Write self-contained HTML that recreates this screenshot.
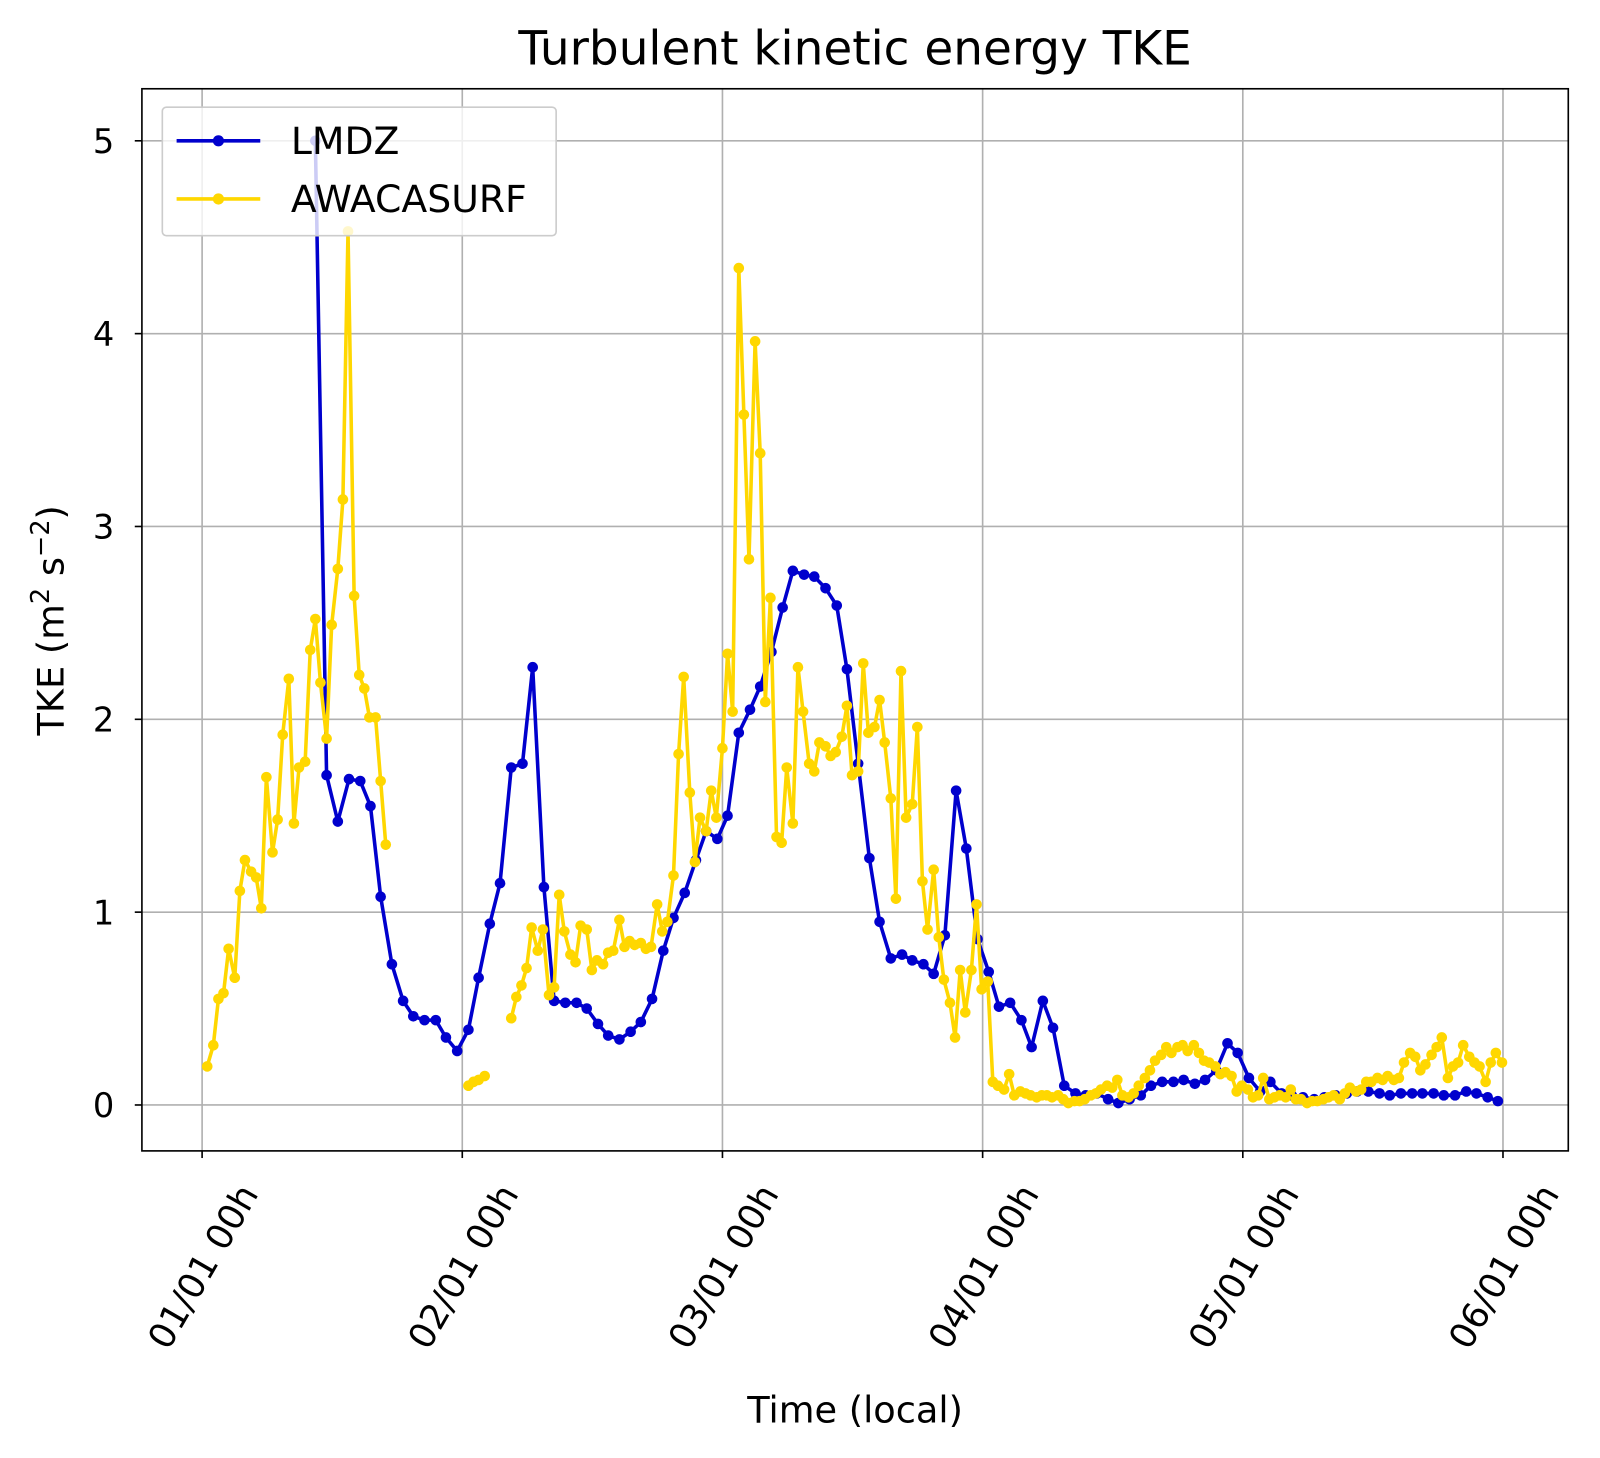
<!DOCTYPE html>
<html><head><meta charset="utf-8"><style>
html,body{margin:0;padding:0;background:#fff;}
svg{display:block;}
text{font-family:"DejaVu Sans","Liberation Sans",sans-serif;fill:#000;}
</style></head><body>
<svg id="s" width="1600" height="1458" viewBox="0 0 1568 1429" xmlns="http://www.w3.org/2000/svg">
<rect width="1568" height="1429" fill="#fff"/>
<g id="grid" stroke="#b0b0b0" stroke-width="1.6"></g>
<g id="data"></g>
<rect x="139" y="87" width="1398" height="1041" fill="none" stroke="#000" stroke-width="1.6"/>
<g id="ticks" stroke="#000" stroke-width="1.6"></g>
<g font-size="33" text-anchor="end">
<text x="112" y="1095">0</text>
<text x="112" y="906">1</text>
<text x="112" y="717">2</text>
<text x="112" y="528">3</text>
<text x="112" y="339">4</text>
<text x="112" y="150">5</text>
</g>
<g font-size="35" text-anchor="end">
<text transform="translate(254,1170) rotate(-60)">01/01 00h</text>
<text transform="translate(509,1170) rotate(-60)">02/01 00h</text>
<text transform="translate(764,1170) rotate(-60)">03/01 00h</text>
<text transform="translate(1019,1170) rotate(-60)">04/01 00h</text>
<text transform="translate(1274,1170) rotate(-60)">05/01 00h</text>
<text transform="translate(1529,1170) rotate(-60)">06/01 00h</text>
</g>
<text x="838" y="63" font-size="46" text-anchor="middle">Turbulent kinetic energy TKE</text>
<text x="838" y="1394" font-size="36" text-anchor="middle">Time (local)</text>
<text transform="translate(62,608) rotate(-90)" font-size="36" text-anchor="middle">TKE (m<tspan font-size="25" dy="-14">2</tspan><tspan dy="14"> s</tspan><tspan font-size="25" dy="-14">−2</tspan><tspan dy="14">)</tspan></text>
<g>
<rect x="159" y="105" width="386" height="126" rx="4" fill="#fff" fill-opacity="0.8" stroke="#ccc" stroke-width="1.6"/>
<line x1="173" y1="138" x2="255" y2="138" stroke="#0000cd" stroke-width="3.5"/>
<circle cx="214" cy="138" r="5.5" fill="#0000cd"/>
<line x1="173" y1="195" x2="255" y2="195" stroke="#ffd700" stroke-width="3.5"/>
<circle cx="214" cy="195" r="5.5" fill="#ffd700"/>
<text x="285" y="151" font-size="37">LMDZ</text>
<text x="285" y="208" font-size="37">AWACASURF</text>
</g>
</svg>
<script>
var NS="http://www.w3.org/2000/svg";
function el(t,a,p){var e=document.createElementNS(NS,t);for(var k in a)e.setAttribute(k,a[k]);p.appendChild(e);return e;}
var g=document.getElementById('grid'),tk=document.getElementById('ticks'),d=document.getElementById('data');
function Y(v){return 1083-v*189;}
for(var i=0;i<6;i++){var x=198+255*i;el('line',{x1:x,y1:87,x2:x,y2:1128},g);el('line',{x1:x,y1:1128,x2:x,y2:1135},tk);
var y=Y(i);el('line',{x1:139,y1:y,x2:1537,y2:y},g);el('line',{x1:132,y1:y,x2:139,y2:y},tk);}
var L="309 5.0,320 1.71,331 1.47,342 1.69,353 1.68,363 1.55,373 1.08,384 0.73,395 0.54,405 0.46,416 0.44,427 0.44,437 0.35,448 0.28,459 0.39,469 0.66,480 0.94,490 1.15,501 1.75,512 1.77,522 2.27,533 1.13,543 0.54,554 0.53,565 0.53,575 0.50,586 0.42,596 0.36,607 0.34,618 0.38,628 0.43,639 0.55,650 0.80,660 0.97,671 1.10,682 1.27,692 1.42,703 1.38,713 1.50,724 1.93,735 2.05,745 2.17,756 2.35,767 2.58,777 2.77,788 2.75,798 2.74,809 2.68,820 2.59,830 2.26,841 1.77,852 1.28,862 0.95,873 0.76,884 0.78,894 0.75,905 0.73,915 0.68,926 0.88,937 1.63,947 1.33,958 0.86,969 0.69,979 0.51,990 0.53,1001 0.44,1011 0.30,1022 0.54,1032 0.40,1043 0.10,1054 0.06,1064 0.05,1075 0.06,1086 0.03,1096 0.01,1107 0.03,1118 0.05,1128 0.10,1139 0.12,1150 0.12,1160 0.13,1171 0.11,1181 0.13,1192 0.18,1203 0.32,1213 0.27,1224 0.14,1235 0.07,1245 0.12,1256 0.06,1266 0.05,1277 0.04,1288 0.03,1298 0.04,1309 0.05,1320 0.06,1330 0.07,1341 0.07,1352 0.06,1362 0.05,1373 0.06,1384 0.06,1394 0.06,1405 0.06,1415 0.05,1426 0.05,1437 0.07,1447 0.06,1458 0.04,1468 0.02";
var A=["203 0.20,209 0.31,214 0.55,219 0.58,224 0.81,230 0.66,235 1.11,240 1.27,246 1.21,251 1.18,256 1.02,261 1.70,267 1.31,272 1.48,277 1.92,283 2.21,288 1.46,293 1.75,299 1.78,304 2.36,309 2.52,314 2.19,320 1.90,325 2.49,331 2.78,336 3.14,341 4.53,347 2.64,352 2.23,357 2.16,362 2.01,368 2.01,373 1.68,378 1.35",
"459 0.10,464 0.12,469 0.13,475 0.15",
"501 0.45,506 0.56,511 0.62,516 0.71,521 0.92,527 0.80,532 0.91,538 0.57,543 0.61,548 1.09,553 0.90,559 0.78,564 0.74,569 0.93,575 0.91,580 0.70,585 0.75,591 0.73,596 0.79,601 0.80,607 0.96,612 0.82,617 0.85,622 0.83,628 0.84,633 0.81,638 0.82,644 1.04,649 0.90,654 0.95,660 1.19,665 1.82,670 2.22,676 1.62,681 1.26,686 1.49,692 1.42,697 1.63,702 1.49,708 1.85,713 2.34,718 2.04,724 4.34,729 3.58,734 2.83,740 3.96,745 3.38,750 2.09,755 2.63,761 1.39,766 1.36,771 1.75,777 1.46,782 2.27,787 2.04,793 1.77,798 1.73,803 1.88,809 1.86,814 1.81,819 1.83,825 1.91,830 2.07,835 1.71,841 1.73,846 2.29,851 1.93,857 1.96,862 2.10,867 1.88,873 1.59,878 1.07,883 2.25,888 1.49,894 1.56,899 1.96,904 1.16,909 0.91,915 1.22,920 0.87,925 0.65,931 0.53,936 0.35,941 0.70,946 0.48,952 0.70,957 1.04,962 0.60,968 0.64,973 0.12,978 0.10,984 0.08,989 0.16,994 0.05,1000 0.07,1005 0.06,1010 0.05,1016 0.04,1021 0.05,1026 0.05,1031 0.04,1037 0.05,1042 0.03,1047 0.01,1053 0.02,1058 0.02,1063 0.03,1069 0.05,1074 0.06,1079 0.08,1085 0.10,1090 0.09,1095 0.13,1100 0.05,1106 0.04,1111 0.06,1116 0.10,1122 0.14,1127 0.18,1132 0.23,1138 0.26,1143 0.30,1148 0.27,1154 0.30,1159 0.31,1164 0.28,1170 0.31,1175 0.27,1180 0.23,1185 0.22,1191 0.20,1196 0.16,1201 0.17,1207 0.15,1212 0.07,1217 0.10,1223 0.08,1228 0.04,1233 0.05,1238 0.14,1244 0.03,1249 0.04,1254 0.05,1260 0.04,1265 0.08,1270 0.03,1275 0.03,1281 0.01,1286 0.02,1291 0.02,1297 0.03,1302 0.04,1307 0.05,1313 0.03,1318 0.06,1323 0.09,1329 0.07,1334 0.08,1339 0.12,1344 0.12,1350 0.14,1355 0.13,1360 0.15,1366 0.13,1371 0.14,1376 0.22,1382 0.27,1387 0.25,1392 0.18,1397 0.21,1403 0.26,1408 0.30,1413 0.35,1419 0.14,1424 0.20,1429 0.22,1434 0.31,1440 0.25,1445 0.22,1450 0.20,1456 0.12,1461 0.22,1466 0.27,1472 0.22"];
function draw(s,c){var pts=s.split(',').map(function(p){var q=p.trim().split(' ');return [+q[0],Y(+q[1])];});
el('polyline',{points:pts.map(function(p){return p.join(',')}).join(' '),fill:'none',stroke:c,'stroke-width':3.5,'stroke-linejoin':'round'},d);
pts.forEach(function(p){el('circle',{cx:p[0],cy:p[1],r:5.2,fill:c},d);});}
draw(L,'#0000cd');A.forEach(function(s){draw(s,'#ffd700');});
</script>
</body></html>
